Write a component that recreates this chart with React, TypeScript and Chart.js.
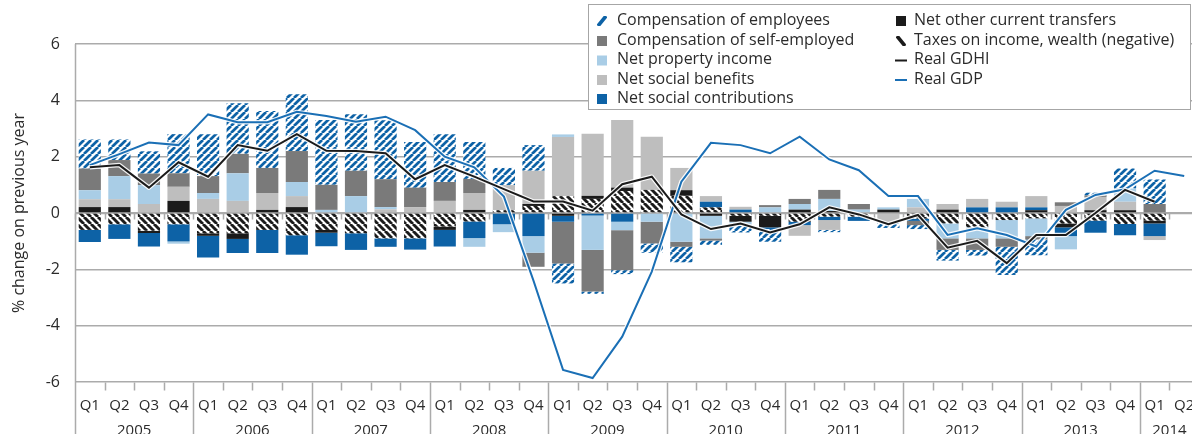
import React, { useEffect, useRef } from "react";
import { Chart, registerables } from "chart.js";

Chart.register(...registerables);

// ---------- DATA ----------
const categories = [
  "2005 Q1", "2005 Q2", "2005 Q3", "2005 Q4",
  "2006 Q1", "2006 Q2", "2006 Q3", "2006 Q4",
  "2007 Q1", "2007 Q2", "2007 Q3", "2007 Q4",
  "2008 Q1", "2008 Q2", "2008 Q3", "2008 Q4",
  "2009 Q1", "2009 Q2", "2009 Q3", "2009 Q4",
  "2010 Q1", "2010 Q2", "2010 Q3", "2010 Q4",
  "2011 Q1", "2011 Q2", "2011 Q3", "2011 Q4",
  "2012 Q1", "2012 Q2", "2012 Q3", "2012 Q4",
  "2013 Q1", "2013 Q2", "2013 Q3", "2013 Q4",
  "2014 Q1", "2014 Q2",
];
const quarterLabels = [
  "Q1", "Q2", "Q3", "Q4", "Q1", "Q2", "Q3", "Q4", "Q1", "Q2", "Q3", "Q4",
  "Q1", "Q2", "Q3", "Q4", "Q1", "Q2", "Q3", "Q4", "Q1", "Q2", "Q3", "Q4",
  "Q1", "Q2", "Q3", "Q4", "Q1", "Q2", "Q3", "Q4", "Q1", "Q2", "Q3", "Q4",
  "Q1", "Q2",
];
const yearLabels = ["2005", "2006", "2007", "2008", "2009", "2010", "2011", "2012", "2013", "2014"];
const quartersPerYear = [4, 4, 4, 4, 4, 4, 4, 4, 4, 2];
const yTicks = [-6, -4, -2, 0, 2, 4, 6];

const taxes = [-0.60, -0.40, -0.63, -0.40, -0.72, -0.72, -0.60, -0.79, -0.60, -0.72, -0.90, -0.90, -0.48, -0.30, 0.10, 0.25, 0.60, 0.50, 0.78, 0.82, 0.61, 0.20, -0.10, -0.10, -0.31, -0.13, -0.13, 0.00, -0.20, -0.37, -0.51, -0.25, -0.19, -0.37, -0.27, -0.39, -0.27, null];
const otherTransfers = [0.21, 0.21, -0.08, 0.43, -0.09, -0.20, 0.11, 0.21, -0.10, 0, 0, 0, -0.12, 0.11, 0, 0.07, -0.10, 0.11, 0.12, 0, 0.20, -0.10, -0.21, -0.41, 0.12, 0.07, 0, 0.12, 0, 0.12, 0, 0, 0.10, -0.14, 0.10, 0.10, -0.10, null];
const socialContributions = [-0.43, -0.52, -0.48, -0.61, -0.77, -0.50, -0.82, -0.69, -0.48, -0.59, -0.30, -0.40, -0.59, -0.59, -0.40, -0.82, -0.21, -0.09, -0.31, 0, 0, 0.20, 0.12, -0.06, -0.12, -0.12, -0.15, 0, -0.08, 0, 0.20, 0.20, 0.10, -0.31, -0.43, -0.40, -0.45, null];
const socialBenefits = [0.28, 0.28, 0.32, 0.50, 0.50, 0.43, 0.60, 0.39, 0, 0, 0.13, 0.21, 0.43, 0.60, 0.89, 1.18, 2.10, 2.20, 2.40, 1.89, 0.79, 0.20, 0.10, 0, -0.38, -0.35, 0, -0.35, 0.20, 0.20, 0.30, 0.20, 0.40, 0.25, 0.47, 0.30, -0.14, null];
const propertyIncome = [0.32, 0.82, 0.67, -0.08, 0.21, 0.98, 0, 0.50, 0.11, 0.60, 0.08, 0, 0, -0.31, -0.28, -0.59, 0.09, -1.22, -0.30, -0.31, -1.02, -0.80, -0.14, 0.20, 0.20, 0.43, 0.12, 0.08, 0.30, -0.53, -0.39, -0.65, -0.63, -0.47, 0, 0.47, 0, null];
const selfEmployed = [0.77, 0.57, 0.41, 0.48, 0.60, 0.69, 0.89, 1.10, 0.89, 0.90, 0.99, 0.69, 0.67, 0.50, 0, -0.50, -1.48, -1.48, -1.42, -0.77, -0.18, -0.08, 0, 0.08, 0.18, 0.32, 0.20, 0, -0.15, -0.41, -0.41, -0.30, -0.12, 0.13, 0.05, 0, 0.32, null];
const employees = [1.03, 0.73, 0.79, 1.39, 1.49, 1.80, 2.02, 2.02, 2.30, 2.01, 2.09, 1.62, 1.70, 1.31, 0.61, 0.91, -0.71, -0.08, -0.14, -0.33, -0.55, -0.15, -0.24, -0.45, 0, -0.08, 0, -0.18, -0.14, -0.38, -0.20, -1.00, -0.56, 0, 0.10, 0.71, 0.87, null];
const realGDHI = [1.62, 1.70, 0.90, 1.80, 1.29, 2.41, 2.21, 2.80, 2.21, 2.20, 2.12, 1.20, 1.70, 1.29, 0.85, 0.41, 0.41, 0.08, 1.02, 1.29, -0.05, -0.57, -0.37, -0.69, -0.40, 0.20, -0.05, -0.40, -0.07, -1.23, -0.99, -1.78, -0.78, -0.78, 0.00, 0.82, 0.40, null];
const realGDP = [1.70, 2.09, 2.50, 2.41, 3.50, 3.22, 3.22, 3.59, 3.44, 3.24, 3.42, 2.94, 2.00, 1.62, 0.58, -2.40, -5.57, -5.86, -4.39, -2.08, 1.11, 2.49, 2.41, 2.12, 2.71, 1.90, 1.52, 0.60, 0.60, -0.78, -0.54, -0.78, -1.19, 0.11, 0.64, 0.84, 1.50, 1.31];

const legendCol1 = [
  "Compensation of employees",
  "Compensation of self-employed",
  "Net property income",
  "Net social benefits",
  "Net social contributions",
];
const legendCol2 = [
  "Net other current transfers",
  "Taxes on income, wealth (negative)",
  "Real GDHI",
  "Real GDP",
];
const yTitle = "% change on previous year";

// ---------- STYLE ----------
const C_BLUE = "#0d62a6";
const C_LINE_BLUE = "#1a6fb5";
const C_LIGHT_BLUE = "#a9cde6";
const C_LIGHT_GREY = "#bebebe";
const C_DARK_GREY = "#7a7a7a";
const C_BLACK = "#1b1b1b";
const C_GRID = "#ababab";
const C_TEXT = "#2b2b2b";
const FONT = "'Open Sans', 'DejaVu Sans', sans-serif";

function makeHatch(ctx: CanvasRenderingContext2D, color: string, dir: number, size: number, width: number) {
  const c = document.createElement("canvas");
  c.width = size;
  c.height = size;
  const g = c.getContext("2d")!;
  g.fillStyle = "#ffffff";
  g.fillRect(0, 0, size, size);
  g.strokeStyle = color;
  g.lineWidth = width;
  g.beginPath();
  for (const k of [-1, 0, 1]) {
    if (dir === 1) {
      g.moveTo(k * size, size);
      g.lineTo(k * size + size, 0);
    } else {
      g.moveTo(k * size, 0);
      g.lineTo(k * size + size, size);
    }
  }
  g.stroke();
  return ctx.createPattern(c, "repeat")!;
}

const decorPlugin = {
  id: "decor",
  beforeDatasetsDraw(chart: any) {
    const { ctx, chartArea, scales } = chart;
    const x = scales.x;
    const y = scales.y;
    const n = categories.length;
    const step = (chartArea.right - chartArea.left) / n;
    const y0 = Math.round(y.getPixelForValue(0)) + 0.5;
    ctx.save();
    ctx.strokeStyle = C_GRID;
    ctx.lineWidth = 1.5;
    ctx.beginPath();
    ctx.moveTo(chartArea.left, y0);
    ctx.lineTo(chartArea.right, y0);
    for (let i = 0; i <= n; i++) {
      const bx = Math.round(chartArea.left + i * step) + 0.5;
      ctx.moveTo(bx, y0);
      ctx.lineTo(bx, y0 + 6);
    }
    ctx.stroke();
    ctx.restore();
    void x;
  },
  beforeDatasetDraw(chart: any, args: any) {
    const meta = args.meta;
    if (meta.type !== "line") return;
    const { ctx } = chart;
    ctx.save();
    ctx.strokeStyle = "rgba(255,255,255,0.9)";
    ctx.lineWidth = 4.5;
    ctx.lineJoin = "round";
    ctx.beginPath();
    let started = false;
    for (const el of meta.data) {
      if (el.skip || isNaN(el.y)) {
        started = false;
        continue;
      }
      if (!started) {
        ctx.moveTo(el.x, el.y);
        started = true;
      } else ctx.lineTo(el.x, el.y);
    }
    ctx.stroke();
    ctx.restore();
  },
  afterDraw(chart: any) {
    const { ctx, chartArea } = chart;
    const n = categories.length;
    const step = (chartArea.right - chartArea.left) / n;
    const H = chart.height;
    ctx.save();
    // y axis line
    ctx.strokeStyle = C_GRID;
    ctx.lineWidth = 1.5;
    ctx.beginPath();
    const ax = Math.round(chartArea.left) + 0.5;
    ctx.moveTo(ax, chartArea.top);
    ctx.lineTo(ax, H);
    // quarter ticks and year separators
    let idx = 0;
    const bottom = Math.round(chartArea.bottom) + 0.5;
    for (let yi = 0; yi < yearLabels.length; yi++) {
      for (let q = 0; q < quartersPerYear[yi]; q++) {
        const bx = Math.round(chartArea.left + idx * step) + 0.5;
        if (q === 0) {
          ctx.moveTo(bx, bottom);
          ctx.lineTo(bx, H);
        } else {
          ctx.moveTo(bx, bottom);
          ctx.lineTo(bx, bottom + 8);
        }
        idx++;
      }
    }
    const endX = Math.round(chartArea.left + idx * step) + 0.5;
    ctx.moveTo(endX, bottom);
    ctx.lineTo(endX, H);
    ctx.stroke();

    // quarter labels
    ctx.fillStyle = C_TEXT;
    ctx.font = `15px ${FONT}`;
    ctx.textAlign = "center";
    ctx.textBaseline = "middle";
    for (let i = 0; i < n; i++) {
      const cx = chartArea.left + (i + 0.5) * step;
      ctx.fillText(quarterLabels[i], cx, 406);
    }
    // year labels
    idx = 0;
    for (let yi = 0; yi < yearLabels.length; yi++) {
      const cx = chartArea.left + (idx + quartersPerYear[yi] / 2) * step;
      ctx.fillText(yearLabels[yi], cx, 431);
      idx += quartersPerYear[yi];
    }

    // legend box
    const bx0 = 588.5, by0 = 4.5, bw = 602, bh = 105;
    ctx.fillStyle = "#ffffff";
    ctx.fillRect(bx0, by0, bw, bh);
    ctx.strokeStyle = "#a6a6a6";
    ctx.lineWidth = 1;
    ctx.strokeRect(bx0, by0, bw, bh);

    const rows = [20, 40, 59.5, 79, 98];
    const c1s = 597, c1t = 617, c2s = 896, c2t = 914;
    ctx.font = `16px ${FONT}`;
    ctx.textAlign = "left";
    ctx.textBaseline = "middle";
    ctx.fillStyle = C_TEXT;
    legendCol1.forEach((t, i) => ctx.fillText(t, c1t, rows[i]));
    legendCol2.forEach((t, i) => ctx.fillText(t, c2t, rows[i]));

    const sq = (sx: number, sy: number, color: string) => {
      ctx.fillStyle = color;
      ctx.fillRect(sx, sy - 5, 10, 10);
    };
    const stripe = (sx: number, sy: number, color: string, dir: number) => {
      ctx.save();
      ctx.beginPath();
      ctx.rect(sx, sy - 5, 10, 10);
      ctx.clip();
      ctx.strokeStyle = color;
      ctx.lineWidth = 3.6;
      ctx.beginPath();
      if (dir === 1) {
        ctx.moveTo(sx + 1, sy + 5);
        ctx.lineTo(sx + 9, sy - 5);
      } else {
        ctx.moveTo(sx + 1, sy - 5);
        ctx.lineTo(sx + 9, sy + 5);
      }
      ctx.stroke();
      ctx.restore();
    };
    stripe(c1s, rows[0] + 1, C_BLUE, 1);
    sq(c1s, rows[1] + 1, C_DARK_GREY);
    sq(c1s, rows[2] + 1, C_LIGHT_BLUE);
    sq(c1s, rows[3] + 1, C_LIGHT_GREY);
    sq(c1s, rows[4] + 1, C_BLUE);
    sq(c2s, rows[0] + 1, C_BLACK);
    stripe(c2s, rows[1] + 1, C_BLACK, -1);
    ctx.lineWidth = 2;
    ctx.strokeStyle = C_BLACK;
    ctx.beginPath();
    ctx.moveTo(c2s - 1, rows[2] + 1);
    ctx.lineTo(c2s + 11, rows[2] + 1);
    ctx.stroke();
    ctx.strokeStyle = C_LINE_BLUE;
    ctx.beginPath();
    ctx.moveTo(c2s - 1, rows[3] + 1);
    ctx.lineTo(c2s + 11, rows[3] + 1);
    ctx.stroke();
    ctx.restore();
  },
};

export default function App() {
  const ref = useRef<HTMLCanvasElement | null>(null);

  useEffect(() => {
    const canvas = ref.current!;
    const ctx = canvas.getContext("2d")!;
    const hatchEmployees = makeHatch(ctx, C_BLUE, 1, 7, 2.7);
    const hatchTaxes = makeHatch(ctx, C_BLACK, -1, 7, 2.9);

    const bar = (label: string, data: (number | null)[], bg: any) => ({
      type: "bar" as const,
      label,
      data,
      backgroundColor: bg,
      borderWidth: 0,
      order: 1,
      categoryPercentage: 1,
      barPercentage: 0.75,
    });

    const chart = new Chart(ctx, {
      type: "bar",
      data: {
        labels: categories,
        datasets: [
          bar("Taxes on income, wealth (negative)", taxes, hatchTaxes),
          bar("Net other current transfers", otherTransfers, C_BLACK),
          bar("Net social contributions", socialContributions, C_BLUE),
          bar("Net social benefits", socialBenefits, C_LIGHT_GREY),
          bar("Net property income", propertyIncome, C_LIGHT_BLUE),
          bar("Compensation of self-employed", selfEmployed, C_DARK_GREY),
          bar("Compensation of employees", employees, hatchEmployees),
          {
            type: "line" as const,
            label: "Real GDHI",
            data: realGDHI,
            borderColor: C_BLACK,
            borderWidth: 2,
            pointRadius: 0,
            tension: 0,
            stack: "gdhi",
            order: 0,
            fill: false,
          } as any,
          {
            type: "line" as const,
            label: "Real GDP",
            data: realGDP,
            borderColor: C_LINE_BLUE,
            borderWidth: 2,
            pointRadius: 0,
            tension: 0,
            stack: "gdp",
            order: 0,
            fill: false,
          } as any,
        ],
      },
      options: {
        responsive: false,
        maintainAspectRatio: false,
        devicePixelRatio: 1,
        animation: false,
        events: [],
        layout: { padding: { top: 44, left: 0, right: 0, bottom: 0 } },
        plugins: {
          legend: { display: false },
          tooltip: { enabled: false },
          title: { display: false },
        },
        scales: {
          x: {
            stacked: true,
            offset: true,
            ticks: { display: false },
            grid: { display: false },
            border: { display: false },
            afterFit: (s: any) => {
              s.height = 52;
            },
          },
          y: {
            stacked: true,
            min: -6,
            max: 6,
            afterBuildTicks: (s: any) => {
              s.ticks = yTicks.map((v) => ({ value: v }));
            },
            ticks: {
              padding: 15,
              color: C_TEXT,
              font: { family: FONT, size: 16 },
            },
            grid: { color: C_GRID, lineWidth: 1.5, drawTicks: false },
            border: { display: false },
            title: {
              display: true,
              text: yTitle,
              color: C_TEXT,
              font: { family: FONT, size: 16 },
              padding: { top: 10, bottom: 0 },
            },
            afterFit: (s: any) => {
              s.width = 75;
            },
          },
        },
      },
      plugins: [decorPlugin],
    } as any);

    return () => chart.destroy();
  }, []);

  return (
    <div
      style={{
        position: "fixed",
        left: 0,
        top: 0,
        width: 1192,
        height: 434,
        overflow: "hidden",
        background: "#ffffff",
      }}
    >
      <canvas ref={ref} width={1199} height={434} style={{ display: "block", width: 1199, height: 434 }} />
    </div>
  );
}
